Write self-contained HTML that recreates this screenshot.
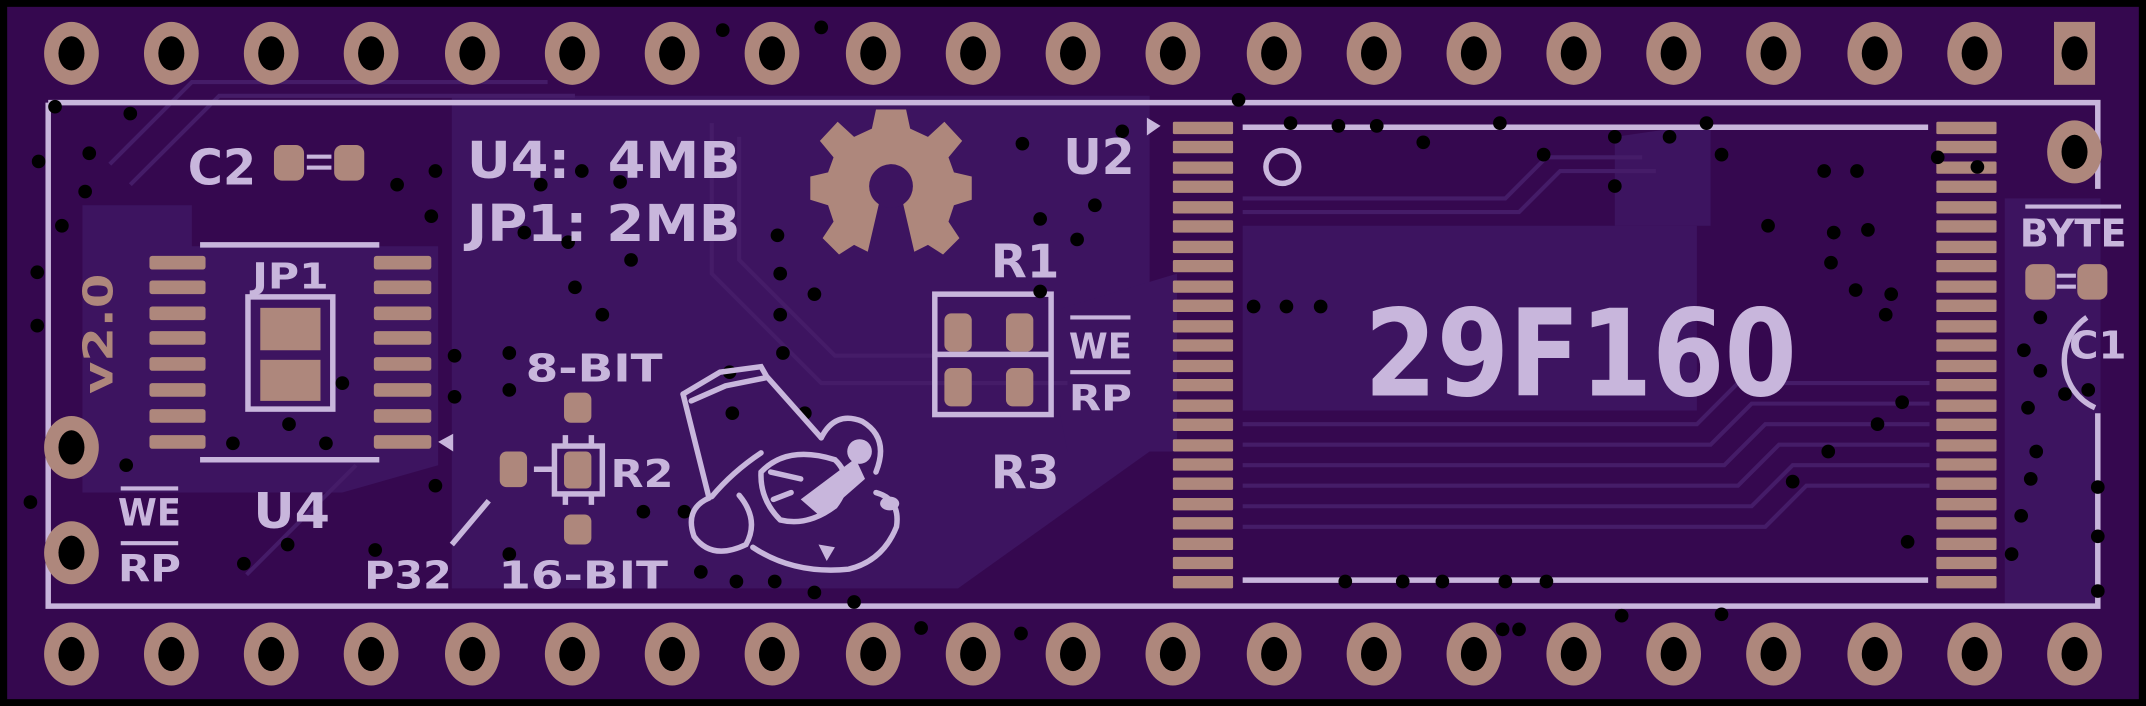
<!DOCTYPE html>
<html><head><meta charset="utf-8"><style>
html,body{margin:0;padding:0;background:#000;}
svg{display:block}
text{font-family:"DejaVu Sans","Liberation Sans",sans-serif;fill:#c8b6dc;font-weight:bold;}
</style></head><body>
<svg width="2146" height="706" viewBox="0 0 1568 516" xmlns="http://www.w3.org/2000/svg">
<defs>
<g id="pin"><ellipse cx="0" cy="0" rx="20" ry="23" fill="#ae877c"/><ellipse cx="0" cy="0" rx="9.5" ry="12.5" fill="#000"/></g>
<g id="row">
<use href="#pin" x="52"/><use href="#pin" x="125"/><use href="#pin" x="198"/><use href="#pin" x="271"/><use href="#pin" x="345"/><use href="#pin" x="418"/><use href="#pin" x="491"/><use href="#pin" x="564"/><use href="#pin" x="638"/><use href="#pin" x="711"/><use href="#pin" x="784"/><use href="#pin" x="857"/><use href="#pin" x="931"/><use href="#pin" x="1004"/><use href="#pin" x="1077"/><use href="#pin" x="1150"/><use href="#pin" x="1223"/><use href="#pin" x="1296"/><use href="#pin" x="1370"/><use href="#pin" x="1443"/>
</g>
</defs>
<rect x="0" y="0" width="1568" height="516" fill="#000"/>
<rect x="5" y="5" width="1558" height="506" fill="#35084f"/>
<!-- lighter pour areas -->
<g fill="#3d1460">
<polygon points="60,150 140,150 140,180 320,180 320,340 250,360 60,360"/>
<polygon points="330,70 840,70 840,330 700,430 330,430"/>
<polygon points="908,165 1240,165 1240,300 908,300"/>
<polygon points="1180,100 1250,90 1250,165 1180,165"/>
<rect x="1465" y="145" width="70" height="300"/>
<polygon points="760,230 860,200 860,330 780,330"/>
</g>
<!-- trace hints -->
<g stroke="#451c68" stroke-width="3" fill="none">
<path d="M908 145 H1100 L1130 115 H1200"/>
<path d="M908 155 H1110 L1140 125 H1210"/>
<path d="M908 310 H1240 L1270 280 H1410"/>
<path d="M908 325 H1250 L1280 295 H1410"/>
<path d="M908 340 H1260 L1290 310 H1410"/>
<path d="M908 355 H1270 L1300 325 H1410"/>
<path d="M908 370 H1280 L1310 340 H1410"/>
<path d="M908 385 H1290 L1320 355 H1410"/>
<path d="M80 120 L140 60 H400"/>
<path d="M95 135 L160 70 H420"/>
<path d="M520 90 V200 L600 280 H780"/>
<path d="M540 100 V190 L610 260 H760"/>
<path d="M180 420 L260 340"/>
</g>
<!-- silkscreen outline -->
<g stroke="#c8b6dc" stroke-width="4" fill="none">
<path d="M35 75 H1533 V138"/>
<path d="M1533 302 V443 H35 V75"/>
<path d="M1525 232 A38 38 0 0 0 1531 298"/>
<path d="M908 93 H1409"/>
<path d="M908 424 H1409"/>
<path d="M146 179 H277"/>
<path d="M146 336 H277"/>
<rect x="181" y="217" width="62" height="82"/>
<rect x="683" y="215" width="85" height="88"/>
<path d="M683 259 H768"/>
<rect x="405" y="326" width="35" height="35"/>
<path d="M357 366 L330 398"/>
<path d="M390 343 H405 M413 318 V326 M432 318 V326 M413 361 V369 M432 361 V369"/>
<path d="M1480 151 H1550" stroke-width="3"/>
<path d="M88 357 H130 M88 397 H130 M782 232 H826 M782 272 H826" stroke-width="3"/>
</g>
<circle cx="937" cy="122" r="12" stroke="#c8b6dc" stroke-width="4" fill="none"/>
<polygon points="838,86 848,92 838,99" fill="#c8b6dc"/>
<polygon points="331,317 320,323 331,330" fill="#c8b6dc"/>
<!-- pins -->
<use href="#row" y="39"/>
<use href="#row" y="478"/>
<use href="#pin" x="1516" y="478"/>
<rect x="1501" y="16" width="30" height="46" fill="#ae877c"/><ellipse cx="1516" cy="39" rx="9.5" ry="12.5" fill="#000"/>
<use href="#pin" x="52" y="327"/><use href="#pin" x="52" y="404"/><use href="#pin" x="1516" y="111"/>
<g fill="#ae877c">
<!-- U4 pads -->
<g>
<rect x="109" y="187" width="41" height="10" rx="2"/><rect x="109" y="205" width="41" height="10" rx="2"/><rect x="109" y="224" width="41" height="10" rx="2"/><rect x="109" y="242" width="41" height="10" rx="2"/><rect x="109" y="261" width="41" height="10" rx="2"/><rect x="109" y="280" width="41" height="10" rx="2"/><rect x="109" y="299" width="41" height="10" rx="2"/><rect x="109" y="318" width="41" height="10" rx="2"/>
<rect x="273" y="187" width="42" height="10" rx="2"/><rect x="273" y="205" width="42" height="10" rx="2"/><rect x="273" y="224" width="42" height="10" rx="2"/><rect x="273" y="242" width="42" height="10" rx="2"/><rect x="273" y="261" width="42" height="10" rx="2"/><rect x="273" y="280" width="42" height="10" rx="2"/><rect x="273" y="299" width="42" height="10" rx="2"/><rect x="273" y="318" width="42" height="10" rx="2"/>
</g>
<rect x="190" y="225" width="44" height="31"/><rect x="190" y="263" width="44" height="30"/>
<rect x="200" y="106" width="22" height="26" rx="6"/><rect x="244" y="106" width="22" height="26" rx="6"/>
<rect x="1480" y="193" width="22" height="26" rx="6"/><rect x="1518" y="193" width="22" height="26" rx="6"/>
<rect x="690" y="229" width="20" height="28" rx="5"/><rect x="735" y="229" width="20" height="28" rx="5"/>
<rect x="690" y="269" width="20" height="28" rx="5"/><rect x="735" y="269" width="20" height="28" rx="5"/>
<rect x="412" y="287" width="20" height="22" rx="5"/><rect x="412" y="330" width="20" height="27" rx="4"/>
<rect x="365" y="330" width="20" height="26" rx="5"/><rect x="412" y="376" width="20" height="22" rx="5"/>
<!-- gear -->
<g transform="translate(651,134)">
<path d="M-11,-54 L11,-54 L14,-40 L27,-34 L39,-45 L52,-31 L42,-19 L46,-8 L59,-5 L59,12 L46,16 L42,28 L50,40 L38,52 L27,45 L17,50 L7,7 L-7,7 L-17,50 L-27,45 L-38,52 L-50,40 L-42,28 L-46,16 L-59,12 L-59,-5 L-46,-8 L-42,-19 L-52,-31 L-39,-45 L-27,-34 L-14,-40 Z"/>
</g>
</g>
<circle cx="651" cy="136" r="16" fill="#3d1460"/>
<!-- U2 pads -->
<g fill="#ae877c">
<g id="col">
<rect x="857" y="89" width="44" height="9" rx="1"/><rect x="857" y="103" width="44" height="9" rx="1"/><rect x="857" y="118" width="44" height="9" rx="1"/><rect x="857" y="132" width="44" height="9" rx="1"/><rect x="857" y="147" width="44" height="9" rx="1"/><rect x="857" y="161" width="44" height="9" rx="1"/><rect x="857" y="176" width="44" height="9" rx="1"/><rect x="857" y="190" width="44" height="9" rx="1"/><rect x="857" y="205" width="44" height="9" rx="1"/><rect x="857" y="219" width="44" height="9" rx="1"/><rect x="857" y="234" width="44" height="9" rx="1"/><rect x="857" y="248" width="44" height="9" rx="1"/><rect x="857" y="263" width="44" height="9" rx="1"/><rect x="857" y="277" width="44" height="9" rx="1"/><rect x="857" y="292" width="44" height="9" rx="1"/><rect x="857" y="306" width="44" height="9" rx="1"/><rect x="857" y="321" width="44" height="9" rx="1"/><rect x="857" y="335" width="44" height="9" rx="1"/><rect x="857" y="349" width="44" height="9" rx="1"/><rect x="857" y="364" width="44" height="9" rx="1"/><rect x="857" y="378" width="44" height="9" rx="1"/><rect x="857" y="393" width="44" height="9" rx="1"/><rect x="857" y="407" width="44" height="9" rx="1"/><rect x="857" y="421" width="44" height="9" rx="1"/>
</g>
<use href="#col" x="558"/>
</g>
<!-- vias -->
<g fill="#000">
<circle cx="528" cy="22" r="5"/><circle cx="600" cy="20" r="5"/><circle cx="905" cy="73" r="5"/><circle cx="943" cy="90" r="5"/><circle cx="978" cy="92" r="5"/><circle cx="1006" cy="92" r="5"/><circle cx="1040" cy="104" r="5"/><circle cx="1096" cy="90" r="5"/><circle cx="1128" cy="113" r="5"/><circle cx="1180" cy="100" r="5"/><circle cx="1247" cy="90" r="5"/><circle cx="1258" cy="113" r="5"/><circle cx="1292" cy="165" r="5"/><circle cx="1333" cy="125" r="5"/><circle cx="1357" cy="125" r="5"/><circle cx="1416" cy="115" r="5"/><circle cx="1445" cy="122" r="5"/><circle cx="1340" cy="170" r="5"/><circle cx="1365" cy="168" r="5"/><circle cx="1338" cy="192" r="5"/><circle cx="1356" cy="212" r="5"/><circle cx="1378" cy="230" r="5"/><circle cx="916" cy="224" r="5"/><circle cx="940" cy="224" r="5"/><circle cx="965" cy="224" r="5"/><circle cx="1390" cy="294" r="5"/><circle cx="1372" cy="310" r="5"/><circle cx="1336" cy="330" r="5"/><circle cx="1310" cy="352" r="5"/><circle cx="1394" cy="396" r="5"/><circle cx="1470" cy="405" r="5"/><circle cx="1491" cy="232" r="5"/><circle cx="1479" cy="256" r="5"/><circle cx="1491" cy="271" r="5"/><circle cx="1509" cy="288" r="5"/><circle cx="1526" cy="285" r="5"/><circle cx="1482" cy="298" r="5"/><circle cx="1488" cy="330" r="5"/><circle cx="1484" cy="350" r="5"/><circle cx="1477" cy="377" r="5"/><circle cx="1533" cy="356" r="5"/><circle cx="1533" cy="392" r="5"/><circle cx="1533" cy="432" r="5"/><circle cx="983" cy="425" r="5"/><circle cx="1025" cy="425" r="5"/><circle cx="1054" cy="425" r="5"/><circle cx="1100" cy="425" r="5"/><circle cx="1130" cy="425" r="5"/><circle cx="1185" cy="450" r="5"/><circle cx="1258" cy="449" r="5"/><circle cx="1110" cy="460" r="5"/><circle cx="820" cy="96" r="5"/><circle cx="800" cy="150" r="5"/><circle cx="747" cy="105" r="5"/><circle cx="760" cy="160" r="5"/><circle cx="787" cy="175" r="5"/><circle cx="760" cy="213" r="5"/><circle cx="40" cy="78" r="5"/><circle cx="28" cy="118" r="5"/><circle cx="65" cy="112" r="5"/><circle cx="62" cy="140" r="5"/><circle cx="45" cy="165" r="5"/><circle cx="27" cy="199" r="5"/><circle cx="27" cy="238" r="5"/><circle cx="95" cy="83" r="5"/><circle cx="290" cy="135" r="5"/><circle cx="318" cy="125" r="5"/><circle cx="395" cy="135" r="5"/><circle cx="425" cy="125" r="5"/><circle cx="453" cy="133" r="5"/><circle cx="315" cy="158" r="5"/><circle cx="383" cy="170" r="5"/><circle cx="415" cy="177" r="5"/><circle cx="461" cy="190" r="5"/><circle cx="568" cy="172" r="5"/><circle cx="570" cy="200" r="5"/><circle cx="595" cy="215" r="5"/><circle cx="570" cy="230" r="5"/><circle cx="572" cy="258" r="5"/><circle cx="533" cy="272" r="5"/><circle cx="535" cy="302" r="5"/><circle cx="588" cy="302" r="5"/><circle cx="440" cy="230" r="5"/><circle cx="420" cy="210" r="5"/><circle cx="332" cy="260" r="5"/><circle cx="332" cy="290" r="5"/><circle cx="372" cy="258" r="5"/><circle cx="372" cy="285" r="5"/><circle cx="250" cy="280" r="5"/><circle cx="211" cy="310" r="5"/><circle cx="238" cy="324" r="5"/><circle cx="170" cy="324" r="5"/><circle cx="318" cy="355" r="5"/><circle cx="470" cy="374" r="5"/><circle cx="500" cy="374" r="5"/><circle cx="210" cy="398" r="5"/><circle cx="178" cy="412" r="5"/><circle cx="372" cy="405" r="5"/><circle cx="274" cy="402" r="5"/><circle cx="512" cy="418" r="5"/><circle cx="538" cy="425" r="5"/><circle cx="566" cy="425" r="5"/><circle cx="595" cy="433" r="5"/><circle cx="624" cy="440" r="5"/><circle cx="673" cy="459" r="5"/><circle cx="746" cy="463" r="5"/><circle cx="92" cy="340" r="5"/><circle cx="22" cy="367" r="5"/><circle cx="1098" cy="460" r="5"/><circle cx="1220" cy="100" r="5"/><circle cx="1180" cy="136" r="5"/><circle cx="1382" cy="215" r="5"/>
</g>
<!-- mascot -->
<g stroke="#c8b6dc" stroke-width="4" fill="none" stroke-linecap="round">
<path d="M499 288 L526 272 L556 268 L560 275 L600 320"/>
<path d="M505 293 L530 282 L560 276"/>
<path d="M499 288 L518 364"/>
<path d="M518 364 Q500 372 507 392 Q520 410 545 398 Q555 380 540 362"/>
<path d="M520 363 Q535 345 556 331"/>
<path d="M550 400 Q580 420 620 416 Q645 410 655 385 Q658 365 640 360"/>
<path d="M600 320 Q610 300 630 308 Q650 320 640 345"/>
<path d="M556 345 Q575 325 610 336 Q625 350 610 370 Q590 385 570 380 Q555 365 556 345 Z"/>
<path d="M563 345 L585 350 M565 365 L578 360"/>
</g>
<g fill="#c8b6dc">
<ellipse cx="628" cy="330" rx="9" ry="9"/>
<path d="M585 365 L625 335 L632 350 L600 378 Z"/>
<ellipse cx="650" cy="368" rx="7" ry="5"/>
<path d="M598 398 l6 12 l6 -10 Z"/>
</g>
<!-- text -->
<g>
<text x="137" y="135" font-size="36" textLength="50" lengthAdjust="spacingAndGlyphs">C2</text>
<rect x="224" y="113" width="18" height="3" fill="#c8b6dc"/><rect x="224" y="121" width="18" height="3" fill="#c8b6dc"/>
<rect x="1503" y="200" width="14" height="3" fill="#c8b6dc"/><rect x="1503" y="208" width="14" height="3" fill="#c8b6dc"/>
<text x="341" y="130" font-size="37" textLength="200" lengthAdjust="spacingAndGlyphs" xml:space="preserve">U4:  4MB</text>
<text x="341" y="176" font-size="37" textLength="200" lengthAdjust="spacingAndGlyphs">JP1: 2MB</text>
<text x="184" y="211" font-size="26" textLength="56" lengthAdjust="spacingAndGlyphs">JP1</text>
<text transform="translate(82,288) rotate(-90)" font-size="30" textLength="88" lengthAdjust="spacingAndGlyphs" style="fill:#ae877c">v2.0</text>
<text x="86" y="384" font-size="27" textLength="46" lengthAdjust="spacingAndGlyphs">WE</text>
<text x="86" y="425" font-size="27" textLength="46" lengthAdjust="spacingAndGlyphs">RP</text>
<text x="185" y="386" font-size="36" textLength="56" lengthAdjust="spacingAndGlyphs">U4</text>
<text x="384" y="279" font-size="28" textLength="100" lengthAdjust="spacingAndGlyphs">8-BIT</text>
<text x="364" y="430" font-size="28" textLength="124" lengthAdjust="spacingAndGlyphs">16-BIT</text>
<text x="266" y="430" font-size="28" textLength="64" lengthAdjust="spacingAndGlyphs">P32</text>
<text x="446" y="356" font-size="28" textLength="46" lengthAdjust="spacingAndGlyphs">R2</text>
<text x="724" y="203" font-size="34" textLength="50" lengthAdjust="spacingAndGlyphs">R1</text>
<text x="724" y="357" font-size="34" textLength="50" lengthAdjust="spacingAndGlyphs">R3</text>
<text x="781" y="262" font-size="26" textLength="46" lengthAdjust="spacingAndGlyphs">WE</text>
<text x="781" y="300" font-size="26" textLength="46" lengthAdjust="spacingAndGlyphs">RP</text>
<text x="777" y="127" font-size="36" textLength="52" lengthAdjust="spacingAndGlyphs">U2</text>
<text x="997" y="289" font-size="88" textLength="316" lengthAdjust="spacingAndGlyphs">29F160</text>
<text x="1476" y="180" font-size="28" textLength="78" lengthAdjust="spacingAndGlyphs">BYTE</text>
<text x="1512" y="262" font-size="28" textLength="42" lengthAdjust="spacingAndGlyphs">C1</text>
</g>
</svg>
</body></html>
